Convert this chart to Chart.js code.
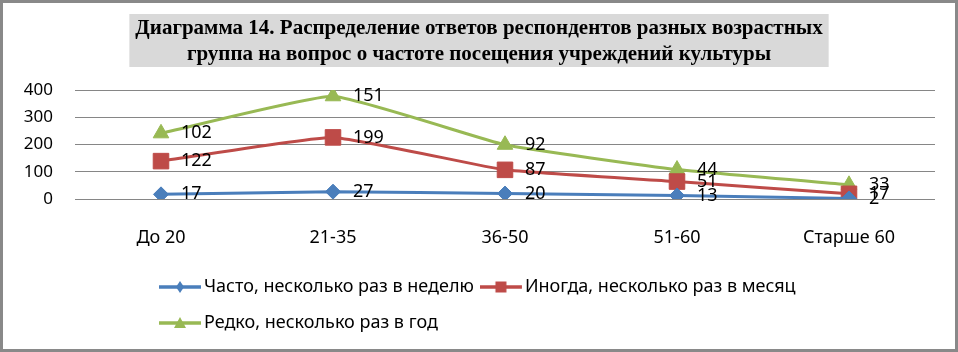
<!DOCTYPE html>
<html lang="ru">
<head>
<meta charset="utf-8">
<script src="https://cdn.jsdelivr.net/npm/chart.js@4/dist/chart.umd.min.js"></script>
<style>
  html, body { margin: 0; padding: 0; background: #fff; }
  #wrap { width: 958px; height: 352px; }
</style>
</head>
<body>
<div id="wrap"><canvas id="chart"></canvas></div>
<script>
const categories = ['До 20', '21-35', '36-50', '51-60', 'Старше 60'];
const often = [17, 27, 20, 13, 2];
const sometimes = [122, 199, 87, 51, 17];
const rarely = [102, 151, 92, 44, 33];
const seriesNames = ['Часто, несколько раз в неделю', 'Иногда, несколько раз в месяц', 'Редко, несколько раз в год'];
const yTicks = [0, 100, 200, 300, 400];
const titleLines = [
  'Диаграмма 14. Распределение ответов респондентов разных возрастных',
  'группа на вопрос о частоте посещения учреждений культуры'
];

const BLUE = '#4a7ebb', RED = '#be4b48', GREEN = '#98b954';
const FONT = '"Noto Sans", sans-serif';
const TITLE_FONT = 'bold 21px "Liberation Serif"';
const LEGEND_LEFT = 153, LEGEND_WIDTH = 780;

// little line+marker picture for legend entries (Excel look)
function legendMark(shape, color) {
  const c = document.createElement('canvas');
  c.width = 48; c.height = 16;
  const g = c.getContext('2d');
  g.strokeStyle = color; g.fillStyle = color; g.lineWidth = 3.5;
  g.beginPath(); g.moveTo(0, 8); g.lineTo(42, 8); g.stroke();
  g.beginPath();
  if (shape === 'diamond') { g.moveTo(21, 2); g.lineTo(25, 8); g.lineTo(21, 14); g.lineTo(17, 8); }
  else if (shape === 'square') { g.rect(15.5, 2.5, 11, 11); }
  else { g.moveTo(21, 2); g.lineTo(27, 13); g.lineTo(15, 13); }
  g.closePath(); g.fill();
  return c;
}
const marks = [legendMark('diamond', BLUE), legendMark('square', RED), legendMark('triangle', GREEN)];

const valueLabels = {
  id: 'valueLabels',
  afterDatasetsDraw(chart) {
    const ctx = chart.ctx;
    ctx.save();
    ctx.font = '18px ' + FONT;
    ctx.fillStyle = '#000';
    ctx.textAlign = 'left';
    ctx.textBaseline = 'middle';
    chart.data.datasets.forEach((ds, i) => {
      chart.getDatasetMeta(i).data.forEach((pt, j) => {
        ctx.fillText(String(ds.data[j]), pt.x + 20, pt.y);
      });
    });
    ctx.restore();
  }
};

const frame = {
  id: 'frame',
  beforeDraw(chart) {
    const t = chart.titleBlock, ctx = chart.ctx;
    if (!t) return;
    ctx.save();
    ctx.font = TITLE_FONT;
    const w = Math.max(...titleLines.map(s => ctx.measureText(s).width)) + 12;
    const cx = (t.left + t.right) / 2;
    ctx.fillStyle = '#d9d9d9';
    ctx.fillRect(cx - w / 2, t.top + 14, w, 53);
    ctx.restore();
  },
  afterDraw(chart) {
    const ctx = chart.ctx;
    ctx.save();
    ctx.strokeStyle = '#898989';
    ctx.lineWidth = 3;
    ctx.strokeRect(1.5, 1.5, chart.width - 3, chart.height - 3);
    ctx.restore();
  }
};

// legend wraps after two items and starts from the left like in Excel
const legendRows = {
  id: 'legendRows',
  beforeLayout(chart) {
    const lg = chart.legend;
    if (!lg || lg._rowsPatched) return;
    const base = Object.getPrototypeOf(lg).update;
    lg.update = function (w, h, m) { base.call(this, LEGEND_WIDTH, h, m); };
    lg._rowsPatched = true;
  },
  afterLayout(chart) {
    const lg = chart.legend;
    if (!lg) return;
    lg.left = LEGEND_LEFT;
    lg.right = LEGEND_LEFT + LEGEND_WIDTH;
    lg.width = LEGEND_WIDTH;
  }
};

function line(label, data, color, style, radius) {
  return {
    label: label, data: data,
    borderColor: color, backgroundColor: color,
    borderWidth: 3, tension: 0.12, fill: false,
    pointStyle: style, pointRadius: radius, pointHoverRadius: radius,
    pointBorderWidth: 1, pointBorderColor: color, pointBackgroundColor: color
  };
}

new Chart(document.getElementById('chart'), {
  type: 'line',
  data: {
    labels: categories,
    datasets: [
      line(seriesNames[0], often, BLUE, 'rectRot', 7.5),
      line(seriesNames[1], sometimes, RED, 'rect', 11),
      line(seriesNames[2], rarely, GREEN, 'triangle', 9)
    ]
  },
  options: {
    responsive: true,
    maintainAspectRatio: false,
    animation: false,
    layout: { padding: { left: 23, right: 23, top: 0, bottom: 10 } },
    plugins: {
      tooltip: { enabled: false },
      title: {
        display: true,
        text: titleLines,
        color: '#000',
        font: { family: '"Liberation Serif"', size: 21, weight: 'bold', lineHeight: 26 / 21 },
        padding: { top: 16, bottom: 22 }
      },
      legend: {
        position: 'bottom',
        align: 'start',
        labels: {
          usePointStyle: true,
          pointStyleWidth: 24,
          padding: 18,
          color: '#000',
          font: { family: FONT, size: 18 },
          generateLabels(chart) {
            const items = Chart.defaults.plugins.legend.labels.generateLabels(chart);
            items.forEach((it, i) => { it.pointStyle = marks[i]; });
            return items;
          }
        }
      }
    },
    scales: {
      x: {
        offset: true,
        grid: { display: false },
        border: { display: false },
        ticks: { color: '#000', font: { family: FONT, size: 18 }, padding: 20, maxRotation: 0 },
        afterFit(scale) { scale.height = 61; }
      },
      y: {
        stacked: true,
        min: yTicks[0],
        max: yTicks[yTicks.length - 1],
        afterBuildTicks(scale) { scale.ticks = yTicks.map(v => ({ value: v })); },
        grid: { color: '#868686', lineWidth: 1, drawTicks: false },
        border: { display: false },
        ticks: { color: '#000', font: { family: FONT, size: 17 }, padding: 22 },
        afterFit(scale) { scale.width = 52; }
      }
    }
  },
  plugins: [valueLabels, frame, legendRows]
});
</script>
</body>
</html>
